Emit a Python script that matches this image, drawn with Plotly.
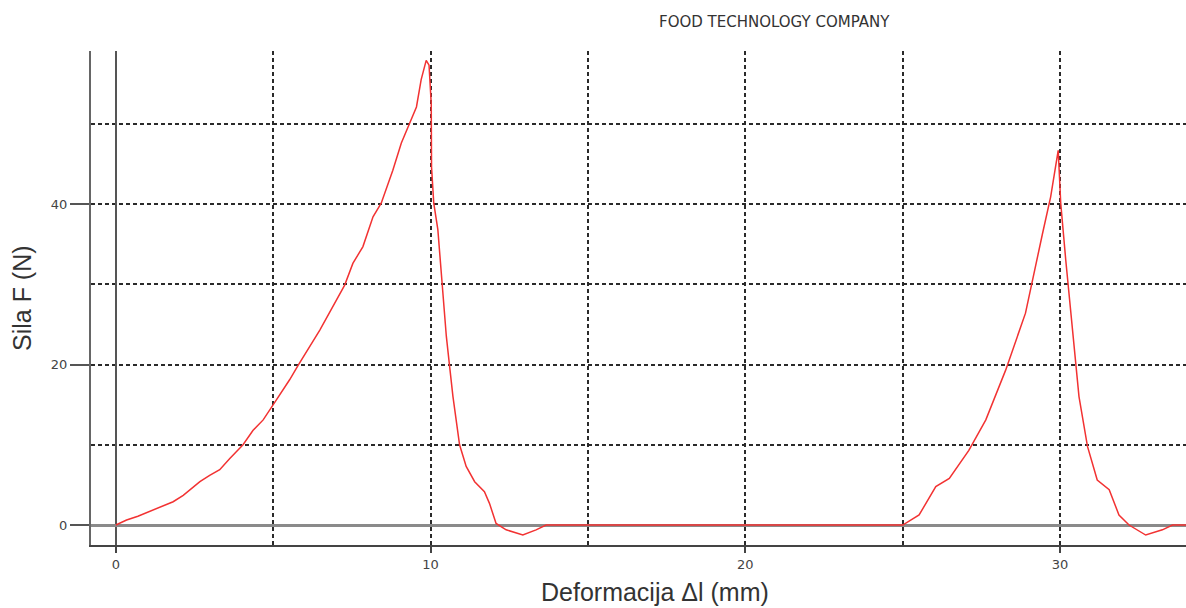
import plotly.graph_objects as go

# Deformation (mm) and force (N)
deformation_mm = [
    0.0, 0.34, 0.7, 1.19, 1.82, 2.14, 2.67, 2.98, 3.3, 3.62, 4.04, 4.36, 4.68,
    5.1, 5.52, 5.79, 6.48, 7.27, 7.53, 7.85, 8.17, 8.43, 8.8, 9.07, 9.33, 9.55,
    9.7, 9.86, 9.95, 10.02, 10.03, 10.1, 10.23, 10.34, 10.5, 10.6, 10.71, 10.92,
    11.13, 11.4, 11.71, 11.87, 12.08, 12.4, 12.93, 13.35, 13.67,
    25.0, 25.52, 26.05, 26.48, 27.1, 27.64, 28.27, 28.9, 29.44, 29.7, 29.94,
    30.02, 30.18, 30.39, 30.6, 30.87, 31.18, 31.56, 31.87, 32.19, 32.72, 33.25,
    33.57, 34.0,
]
force_n = [
    0.0, 0.62, 1.1, 1.87, 2.9, 3.7, 5.4, 6.2, 6.9, 8.3, 10.0, 11.8, 13.1,
    15.6, 18.1, 19.9, 24.3, 29.9, 32.6, 34.7, 38.4, 40.1, 44.2, 47.6, 50.1, 52.1,
    55.5, 57.9, 57.3, 52.5, 44.6, 40.1, 36.8, 31.4, 23.5, 19.9, 16.0, 10.0,
    7.3, 5.4, 4.15, 2.7, 0.2, -0.6, -1.25, -0.6, 0.0,
    0.0, 1.25, 4.8, 5.8, 9.3, 13.1, 19.3, 26.4, 36.3, 40.9, 46.7,
    40.1, 33.0, 24.7, 16.0, 9.8, 5.6, 4.4, 1.25, 0.0, -1.25, -0.6,
    0.0, 0.0,
]

x_tick_vals = [0, 10, 20, 30]
x_tick_text = ["0", "10", "20", "30"]
y_tick_vals = [0, 20, 40]
y_tick_text = ["0", "20", "40"]

grid_color = "#2a2a2a"
grid_dash = "4px,3px"
grid_w = 1.6

fig = go.Figure()
fig.add_trace(go.Scatter(
    x=deformation_mm, y=force_n, mode="lines",
    line=dict(color="rgb(242,50,50)", width=1.5),
    showlegend=False, hoverinfo="skip",
))

fig.update_layout(
    width=1186, height=608,
    margin=dict(l=91, r=0, t=51, b=63),
    paper_bgcolor="white", plot_bgcolor="white",
    font=dict(family="DejaVu Sans", color="#444"),
    xaxis=dict(
        range=[-0.79, 34.0],
        tickmode="array", tickvals=x_tick_vals, ticktext=x_tick_text,
        ticks="outside", ticklen=6, tickwidth=2, tickcolor="#444",
        tickfont=dict(size=13, color="#444", family="DejaVu Sans"),
        showgrid=True, gridcolor=grid_color, griddash=grid_dash, gridwidth=grid_w,
        minor=dict(tickmode="array", tickvals=[5, 15, 25], showgrid=True,
                   gridcolor=grid_color, griddash=grid_dash, gridwidth=grid_w, ticks=""),
        zeroline=True, zerolinecolor="#555", zerolinewidth=2,
        showline=True, linecolor="#444", linewidth=2,
        fixedrange=True,
    ),
    yaxis=dict(
        range=[-2.49, 59.07],
        tickmode="array", tickvals=y_tick_vals, ticktext=y_tick_text,
        ticks="outside", ticklen=19, tickwidth=1.5, tickcolor="#555",
        tickfont=dict(size=13, color="#444", family="DejaVu Sans"),
        showgrid=True, gridcolor=grid_color, griddash=grid_dash, gridwidth=grid_w,
        minor=dict(tickmode="array", tickvals=[10, 30, 50], showgrid=True,
                   gridcolor=grid_color, griddash=grid_dash, gridwidth=grid_w, ticks=""),
        zeroline=True, zerolinecolor="#8a8a8a", zerolinewidth=2.5,
        showline=True, linecolor="#666", linewidth=2,
        fixedrange=True,
    ),
    annotations=[
        dict(text="Sila F (N)", xref="paper", yref="paper", x=0, y=0.5,
             xshift=-69, textangle=-90, showarrow=False,
             xanchor="center", yanchor="middle",
             font=dict(family="Liberation Sans", size=25, color="#333")),
        dict(text="Deformacija \u0394l (mm)", xref="paper", yref="paper",
             x=0.515, y=0, yshift=-47, showarrow=False,
             xanchor="center", yanchor="middle",
             font=dict(family="Liberation Sans", size=25, color="#333")),
        dict(text="FOOD TECHNOLOGY COMPANY", xref="paper", yref="paper",
             x=(774 - 91) / 1095, y=1, yshift=29, showarrow=False,
             xanchor="center", yanchor="middle",
             font=dict(family="DejaVu Sans", size=15, color="#333")),
    ],
)

fig.write_html("out.html")
